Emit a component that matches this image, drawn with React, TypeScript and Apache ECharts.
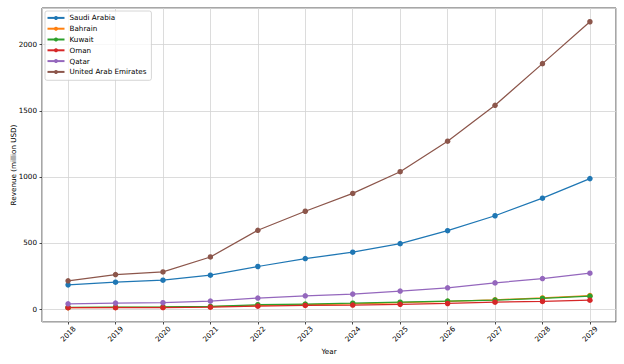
import React, { useEffect, useRef } from 'react';
import * as echarts from 'echarts';

const years = [2018, 2019, 2020, 2021, 2022, 2023, 2024, 2025, 2026, 2027, 2028, 2029];
const saudiArabia = [183, 203, 218, 256, 322, 382, 430, 495, 593, 706, 839, 987];
const bahrain = [10, 12, 14, 18, 27, 33, 40, 48, 58, 70, 84, 102];
const kuwait = [12, 14, 16, 20, 33, 38, 44, 52, 60, 68, 80, 97];
const oman = [10, 10, 11, 14, 22, 27, 30, 36, 42, 52, 58, 67];
const qatar = [40, 45, 48, 60, 83, 100, 113, 136, 161, 198, 231, 271];
const uae = [214, 261, 281, 394, 596, 740, 875, 1039, 1270, 1542, 1857, 2174];

const seriesDefs = [
  { name: 'Saudi Arabia', data: saudiArabia, color: '#1f77b4' },
  { name: 'Bahrain', data: bahrain, color: '#ff7f0e' },
  { name: 'Kuwait', data: kuwait, color: '#2ca02c' },
  { name: 'Oman', data: oman, color: '#d62728' },
  { name: 'Qatar', data: qatar, color: '#9467bd' },
  { name: 'United Arab Emirates', data: uae, color: '#8c564b' },
];

const FONT = 'DejaVu Sans';
const FS = 7.2;

export default function App() {
  const ref = useRef<HTMLDivElement>(null);
  useEffect(() => {
    if (!ref.current) return;
    const chart = echarts.init(ref.current, undefined, { renderer: 'svg' });
    chart.setOption({
      animation: false,
      backgroundColor: '#ffffff',
      textStyle: { fontFamily: FONT },
      grid: {
        left: 42,
        right: 8,
        top: 8,
        bottom: 42,
        containLabel: false,
        outerBoundsMode: 'none',
        show: true,
        borderColor: '#222',
        borderWidth: 0.8,
        backgroundColor: 'transparent',
      },
      legend: {
        orient: 'vertical',
        left: 45,
        top: 11,
        padding: [1.5, 5, 3, 1.5],
        itemGap: 0,
        itemWidth: 17,
        itemHeight: 5,
        backgroundColor: 'rgba(255,255,255,0.8)',
        borderColor: '#cccccc',
        borderWidth: 0.8,
        borderRadius: 2,
        textStyle: { fontFamily: FONT, fontSize: FS, color: '#000', lineHeight: 10.8 },
        data: seriesDefs.map((s) => s.name),
      },
      xAxis: {
        type: 'value',
        min: 2017.45,
        max: 2029.55,
        minInterval: 1,
        maxInterval: 1,
        name: 'Year',
        nameLocation: 'middle',
        nameGap: 26,
        nameMoveOverlap: false,
        nameTextStyle: { fontFamily: FONT, fontSize: FS, color: '#000' },
        axisLine: { show: false, onZero: false },
        axisTick: { show: true, length: 2.5, lineStyle: { color: '#222', width: 0.8 } },
        axisLabel: {
          rotate: 45,
          align: 'center',
          verticalAlign: 'middle',
          margin: 12,
          fontFamily: FONT,
          fontSize: FS,
          color: '#000',
          showMinLabel: false,
          showMaxLabel: false,
          formatter: (v: number) => (Number.isInteger(v) ? String(v) : ''),
        },
        splitLine: { show: true, lineStyle: { color: '#d3d3d3', width: 0.8 } },
      },
      yAxis: {
        type: 'value',
        min: -98,
        max: 2278,
        minInterval: 500,
        maxInterval: 500,
        name: 'Revenue (million USD)',
        nameLocation: 'middle',
        nameGap: 25,
        nameMoveOverlap: false,
        nameTextStyle: { fontFamily: FONT, fontSize: FS, color: '#000' },
        axisLine: { show: false },
        axisTick: { show: true, length: 2.5, lineStyle: { color: '#222', width: 0.8 } },
        axisLabel: {
          margin: 5,
          fontFamily: FONT,
          fontSize: FS,
          color: '#000',
          showMinLabel: false,
          showMaxLabel: false,
          formatter: (v: number) => (v % 500 === 0 ? String(v) : ''),
        },
        splitLine: { show: true, lineStyle: { color: '#d3d3d3', width: 0.8 } },
      },
      series: seriesDefs.map((s) => ({
        name: s.name,
        type: 'line',
        data: years.map((y, i) => [y, s.data[i]]),
        symbol: 'circle',
        symbolSize: 5.5,
        showSymbol: true,
        lineStyle: { color: s.color, width: 1.25 },
        itemStyle: { color: s.color, borderWidth: 0 },
        emphasis: { disabled: true },
      })),
    });
    return () => chart.dispose();
  }, []);
  return (
    <div
      ref={ref}
      style={{ position: 'fixed', left: 0, top: 0, width: 624, height: 364 }}
    />
  );
}
